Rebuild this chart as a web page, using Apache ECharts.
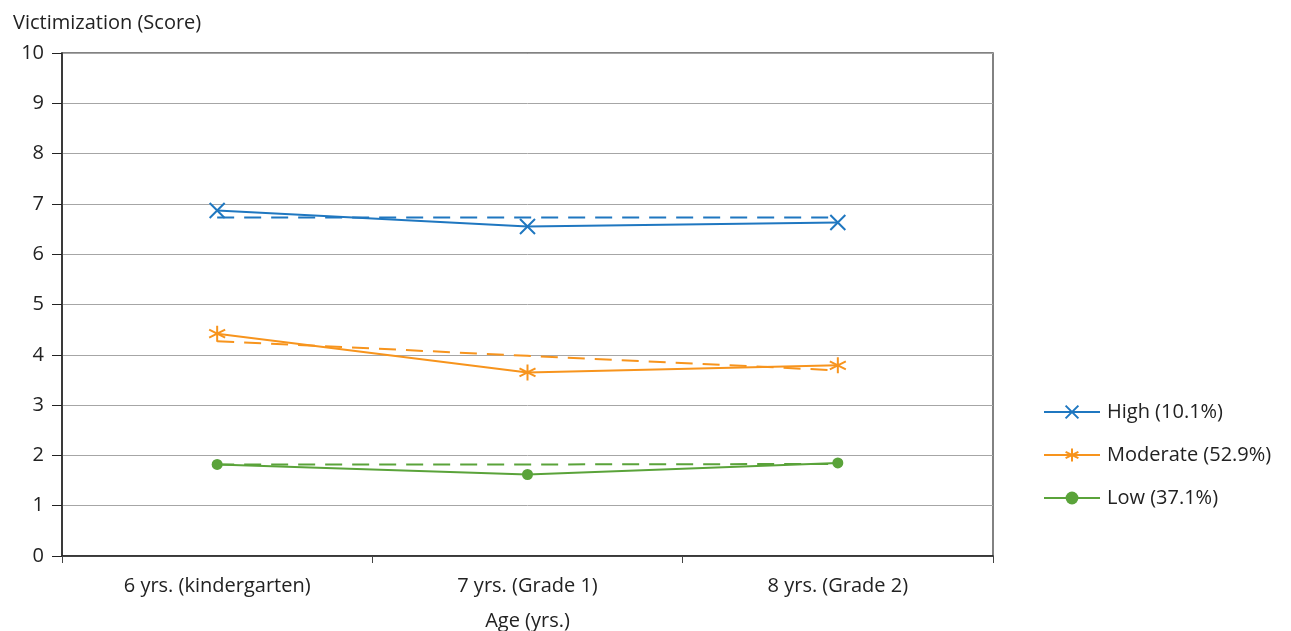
<!DOCTYPE html>
<html><head><meta charset="utf-8">
<script src="https://cdn.jsdelivr.net/npm/echarts@6/dist/echarts.min.js"></script>
<style>html,body{margin:0;padding:0;background:#fff}#c{width:1291px;height:631px}</style>
</head><body><div id="c"></div>
<script>
const categories = ['6 yrs. (kindergarten)', '7 yrs. (Grade 1)', '8 yrs. (Grade 2)'];
const seriesNames = ['High (10.1%)', 'Moderate (52.9%)', 'Low (37.1%)'];
const highObserved = [6.87, 6.55, 6.63];
const moderateObserved = [4.42, 3.65, 3.79];
const lowObserved = [1.82, 1.62, 1.85];
const highEstimated = [6.73, 6.73, 6.73];
const moderateEstimated = [4.27, 3.98, 3.69];
const lowEstimated = [1.82, 1.82, 1.83];
const yTicks = [0, 1, 2, 3, 4, 5, 6, 7, 8, 9, 10];

const colors = ['#1f77c0', '#f7941d', '#5aa33a'];
const font = '"Open Sans", "Noto Sans", sans-serif';
const chart = echarts.init(document.getElementById('c'));

function solid(name, data, color, symbol, size) {
  return { name, type: 'line', data, color, symbol, symbolSize: size,
    lineStyle: { color, width: 2 }, itemStyle: { color, borderColor: color, borderWidth: symbol === 'circle' ? 0 : 2 },
    z: 3, animation: false };
}
function dashed(data, color) {
  return { type: 'line', data, symbol: 'none', lineStyle: { color, width: 2, type: [17, 10] }, z: 2, animation: false, silent: true };
}
const xPath = 'path://M0,0L10,10M10,0L0,10';
const starPath = 'path://M5,0L5,10M0,2.5L10,7.5M0,7.5L10,2.5';

chart.setOption({
  animation: false,
  grid: { left: 62, right: 298, top: 53, bottom: 75, show: true, borderColor: '#595959', borderWidth: 1.5,
    outerBoundsMode: 'none', containLabel: false },
  legend: {
    orient: 'vertical', left: 1043, top: 402, itemGap: 23, itemWidth: 56, itemHeight: 16, padding: 0,
    data: seriesNames,
    textStyle: { fontFamily: font, fontSize: 20, color: '#222', padding: [0, 0, 0, 2] }
  },
  xAxis: {
    type: 'category', data: categories, boundaryGap: true,
    name: 'Age (yrs.)', nameLocation: 'middle', nameGap: 55,
    nameTextStyle: { fontFamily: font, fontSize: 20, color: '#222' },
    axisLine: { lineStyle: { color: '#222', width: 1.5 } },
    axisTick: { show: true, length: 7, lineStyle: { color: '#444' } },
    axisLabel: { fontFamily: font, fontSize: 20, color: '#222', margin: 20 }
  },
  yAxis: {
    type: 'value', min: 0, max: 10, interval: 1,
    name: 'Victimization (Score)', nameLocation: 'end', nameGap: 20,
    nameTextStyle: { fontFamily: font, fontSize: 20, color: '#222', align: 'left', padding: [0, 0, 0, -49] },
    axisLine: { show: true, lineStyle: { color: '#222', width: 1.5 } },
    axisTick: { show: true, length: 10, lineStyle: { color: '#222' } },
    axisLabel: { fontFamily: font, fontSize: 20, color: '#222', margin: 18,
      formatter: v => yTicks.includes(v) ? String(v) : '' },
    splitLine: { lineStyle: { color: '#a6a6a6', width: 1 } }
  },
  series: [
    dashed(highEstimated, colors[0]),
    dashed(moderateEstimated, colors[1]),
    dashed(lowEstimated, colors[2]),
    solid(seriesNames[0], highObserved, colors[0], xPath, 15),
    solid(seriesNames[1], moderateObserved, colors[1], starPath, 16),
    solid(seriesNames[2], lowObserved, colors[2], 'circle', 11)
  ]
});
</script></body></html>
